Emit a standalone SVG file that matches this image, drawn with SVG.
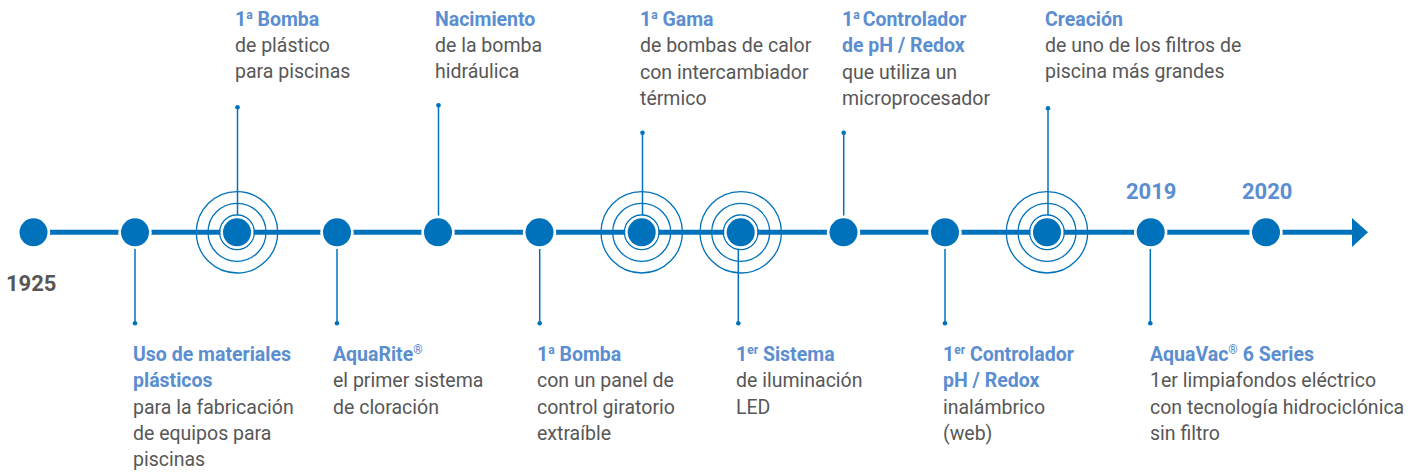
<svg xmlns="http://www.w3.org/2000/svg" width="1413" height="473" viewBox="0 0 1413 473">
<style>
  text { font-family: "Roboto", "Liberation Sans", sans-serif; font-size: 19.5px; fill: #575757; }
  .t { font-weight: bold; fill: #5b8ed1; }
  .y { font-weight: bold; font-size: 22px; }
  .yb { font-weight: bold; font-size: 22px; fill: #5b8ed1; }
  .sup { font-size: 12px; }
  .node { fill: #0072bb; }
  .halo { fill: #ffffff; }
  .ring { fill: none; stroke: #0072bb; stroke-width: 1.3; }
  .conn { stroke: #0072bb; stroke-width: 1.5; fill: none; }
  .dot { fill: #0072bb; }
</style>
<rect width="1413" height="473" fill="#ffffff"/>
<g id="timeline">
  <line x1="34" y1="232.3" x2="1353" y2="232.3" stroke="#0072bb" stroke-width="5"/>
  <polygon points="1352,218 1368,232.3 1352,247" fill="#0072bb"/>
</g>
<g id="connectors">
  <line class="conn" x1="135" y1="232" x2="135" y2="323.3"/><circle class="dot" cx="135" cy="323.3" r="2.3"/>
  <line class="conn" x1="237.5" y1="232" x2="237.5" y2="107.3"/><circle class="dot" cx="237.5" cy="107.3" r="2.3"/>
  <line class="conn" x1="337" y1="232" x2="337" y2="323.3"/><circle class="dot" cx="337" cy="323.3" r="2.3"/>
  <line class="conn" x1="438.5" y1="232" x2="438.5" y2="105.3"/><circle class="dot" cx="438.5" cy="105.3" r="2.3"/>
  <line class="conn" x1="539.7" y1="232" x2="539.7" y2="323.3"/><circle class="dot" cx="539.7" cy="323.3" r="2.3"/>
  <line class="conn" x1="642.5" y1="232" x2="642.5" y2="132.7"/><circle class="dot" cx="642.5" cy="132.7" r="2.3"/>
  <line class="conn" x1="738.3" y1="232" x2="738.3" y2="323.3"/><circle class="dot" cx="738.3" cy="323.3" r="2.3"/>
  <line class="conn" x1="843.7" y1="232" x2="843.7" y2="132.7"/><circle class="dot" cx="843.7" cy="132.7" r="2.3"/>
  <line class="conn" x1="945" y1="232" x2="945" y2="323.3"/><circle class="dot" cx="945" cy="323.3" r="2.3"/>
  <line class="conn" x1="1048" y1="232" x2="1048" y2="108.3"/><circle class="dot" cx="1048" cy="108.3" r="2.3"/>
  <line class="conn" x1="1150.3" y1="232" x2="1150.3" y2="323.3"/><circle class="dot" cx="1150.3" cy="323.3" r="2.3"/>
</g>
<g id="n1925">
  <circle class="halo" cx="33.5" cy="232.3" r="16.7"/><circle class="node" cx="33.5" cy="232.3" r="14"/>
  <text class="y" x="6" y="291">1925</text>
</g>
<g id="n-plasticos">
  <circle class="halo" cx="135" cy="232.3" r="16.7"/><circle class="node" cx="135" cy="232.3" r="14"/>
  <text x="133" y="361"><tspan class="t">Uso de materiales</tspan><tspan class="t" x="133" dy="26.3">plásticos</tspan><tspan x="133" dy="26.3">para la fabricación</tspan><tspan x="133" dy="26.3">de equipos para</tspan><tspan x="133" dy="26.3">piscinas</tspan></text>
</g>
<g id="n-bomba-plastico">
  <circle class="ring" cx="237" cy="232.3" r="40.7"/><circle class="ring" cx="237" cy="232.3" r="29"/><circle class="ring" cx="237" cy="232.3" r="17.3"/>
  <circle class="halo" cx="237" cy="232.3" r="16.5"/><circle class="node" cx="237" cy="232.3" r="14"/>
  <text x="235" y="26"><tspan class="t">1<tspan class="sup" dy="-7">a</tspan><tspan dy="7"> Bomba</tspan></tspan><tspan x="235" y="52">de plástico</tspan><tspan x="235" y="78">para piscinas</tspan></text>
</g>
<g id="n-aquarite">
  <circle class="halo" cx="337" cy="232.3" r="16.7"/><circle class="node" cx="337" cy="232.3" r="14"/>
  <text x="333" y="361"><tspan class="t">AquaRite<tspan class="sup" dy="-7">®</tspan></tspan><tspan x="333" y="387.3">el primer sistema</tspan><tspan x="333" y="413.6">de cloración</tspan></text>
</g>
<g id="n-nacimiento">
  <circle class="halo" cx="438" cy="232.3" r="16.7"/><circle class="node" cx="438" cy="232.3" r="14"/>
  <text x="435" y="26"><tspan class="t">Nacimiento</tspan><tspan x="435" y="52">de la bomba</tspan><tspan x="435" y="78">hidráulica</tspan></text>
</g>
<g id="n-bomba-panel">
  <circle class="halo" cx="539.5" cy="232.3" r="16.7"/><circle class="node" cx="539.5" cy="232.3" r="14"/>
  <text x="537" y="361"><tspan class="t">1<tspan class="sup" dy="-7">a</tspan><tspan dy="7"> Bomba</tspan></tspan><tspan x="537" y="387.3">con un panel de</tspan><tspan x="537" y="413.6">control giratorio</tspan><tspan x="537" y="439.9">extraíble</tspan></text>
</g>
<g id="n-gama">
  <circle class="ring" cx="641.7" cy="232.3" r="40.7"/><circle class="ring" cx="641.7" cy="232.3" r="29"/><circle class="ring" cx="641.7" cy="232.3" r="17.3"/>
  <circle class="halo" cx="641.7" cy="232.3" r="16.5"/><circle class="node" cx="641.7" cy="232.3" r="14"/>
  <text x="640" y="26"><tspan class="t">1<tspan class="sup" dy="-7">a</tspan><tspan dy="7"> Gama</tspan></tspan><tspan x="640" y="52.3">de bombas de calor</tspan><tspan x="640" y="78.6">con intercambiador</tspan><tspan x="640" y="104.9">térmico</tspan></text>
</g>
<g id="n-led">
  <circle class="ring" cx="740.7" cy="232.3" r="40.7"/><circle class="ring" cx="740.7" cy="232.3" r="29"/><circle class="ring" cx="740.7" cy="232.3" r="17.3"/>
  <circle class="halo" cx="740.7" cy="232.3" r="16.5"/><circle class="node" cx="740.7" cy="232.3" r="14"/>
  <text x="736" y="361"><tspan class="t">1<tspan class="sup" dy="-7">er</tspan><tspan dy="7"> Sistema</tspan></tspan><tspan x="736" y="387.3">de iluminación</tspan><tspan x="736" y="413.6">LED</tspan></text>
</g>
<g id="n-controlador-ph">
  <circle class="halo" cx="843.5" cy="232.3" r="16.7"/><circle class="node" cx="843.5" cy="232.3" r="14"/>
  <text x="842" y="26"><tspan class="t">1<tspan class="sup" dy="-7">a</tspan><tspan dy="7" dx="3">Controlador</tspan></tspan><tspan class="t" x="842" y="52.3">de pH / Redox</tspan><tspan x="842" y="78.6">que utiliza un</tspan><tspan x="842" y="104.9">microprocesador</tspan></text>
</g>
<g id="n-controlador-web">
  <circle class="halo" cx="945" cy="232.3" r="16.7"/><circle class="node" cx="945" cy="232.3" r="14"/>
  <text x="943" y="361"><tspan class="t">1<tspan class="sup" dy="-7">er</tspan><tspan dy="7"> Controlador</tspan></tspan><tspan class="t" x="943" y="387.3">pH / Redox</tspan><tspan x="943" y="413.6">inalámbrico</tspan><tspan x="943" y="439.9">(web)</tspan></text>
</g>
<g id="n-creacion">
  <circle class="ring" cx="1047" cy="232.3" r="40.7"/><circle class="ring" cx="1047" cy="232.3" r="29"/><circle class="ring" cx="1047" cy="232.3" r="17.3"/>
  <circle class="halo" cx="1047" cy="232.3" r="16.5"/><circle class="node" cx="1047" cy="232.3" r="14"/>
  <text x="1045" y="26"><tspan class="t">Creación</tspan><tspan x="1045" y="52">de uno de los filtros de</tspan><tspan x="1045" y="78">piscina más grandes</tspan></text>
</g>
<g id="n2019">
  <circle class="halo" cx="1150.7" cy="232.3" r="16.7"/><circle class="node" cx="1150.7" cy="232.3" r="14"/>
  <text class="yb" x="1126" y="199">2019</text>
  <text x="1150" y="361"><tspan class="t">AquaVac<tspan class="sup" dy="-7">®</tspan><tspan dy="7"> 6 Series</tspan></tspan><tspan x="1150" y="387.3">1er limpiafondos eléctrico</tspan><tspan x="1150" y="413.6">con tecnología hidrociclónica</tspan><tspan x="1150" y="439.9">sin filtro</tspan></text>
</g>
<g id="n2020">
  <circle class="halo" cx="1266" cy="232.3" r="16.7"/><circle class="node" cx="1266" cy="232.3" r="14"/>
  <text class="yb" x="1242" y="199">2020</text>
</g>
</svg>
